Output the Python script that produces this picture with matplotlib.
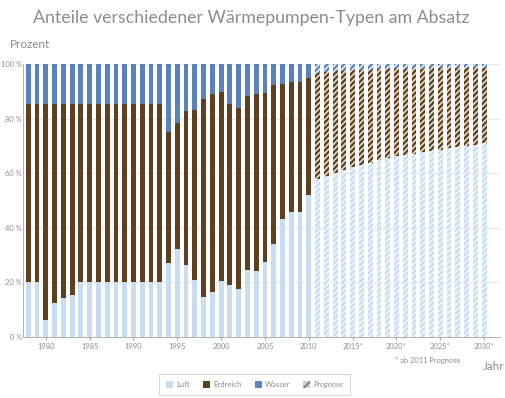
import matplotlib
matplotlib.use("Agg")
import matplotlib.pyplot as plt
from matplotlib.patches import Patch
import numpy as np

plt.rcParams['font.family'] = ['Lato', 'DejaVu Sans']
plt.rcParams['hatch.linewidth'] = 1.2

years = list(range(1978, 2031))
# cumulative tops (percent)
luft = [20, 20, 6.2, 12.3, 14.2, 15.4, 20, 20, 20, 20, 20, 20, 20, 20, 20, 20,
        27, 32.1, 26.4, 20.9, 14.8, 16.5, 20.6, 19.1, 17.6, 24.4, 24.3, 27.4,
        34.1, 43.2, 45.7, 45.9, 52.1,
        58.0, 59.1, 60.0, 61.0, 62.1, 63.0, 63.9, 64.8, 65.6, 66.2, 66.7,
        67.2, 67.7, 68.1, 68.6, 69.1, 69.5, 70.0, 70.3, 70.9]
erdreich_top = [85.2, 85.2, 85.2, 85.2, 85.2, 85.2, 85.2, 85.2, 85.2, 85.2, 85.2,
                85.2, 85.2, 85.2, 85.2, 85.2,
                75.0, 78.5, 82.8, 83.2, 87.2, 88.9, 89.9, 85.2, 83.8, 88.4, 89.1,
                89.5, 92.3, 92.8, 93.3, 93.5, 94.8,
                96.8, 97.1, 97.3, 97.5, 97.7, 97.8, 97.9, 98.0, 98.1, 98.2, 98.2,
                98.3, 98.3, 98.4, 98.4, 98.4, 98.5, 98.5, 98.5, 98.5]
forecast_start = 2011
xtick_years = [1980, 1985, 1990, 1995, 2000, 2005, 2010, 2015, 2020, 2025, 2030]
xtick_labels = ['1980', '1985', '1990', '1995', '2000', '2005', '2010',
                '2015*', '2020*', '2025*', '2030*']

c_luft = '#c8ddf1'
c_erd = '#5e3f1f'
c_was = '#5b82bb'
gray = '#8c8c8c'

luft_a = np.array(luft)
erd_a = np.array(erdreich_top) - luft_a
was_a = 100 - np.array(erdreich_top)
yrs = np.array(years)
hist = yrs < forecast_start
fc = ~hist

fig = plt.figure(figsize=(5.06, 3.98), dpi=100)
ax = fig.add_axes([0.046, 0.1533, 0.942, 0.6859])

w = 0.55
ax.bar(yrs[hist], luft_a[hist], w, color=c_luft, linewidth=0)
ax.bar(yrs[hist], erd_a[hist], w, bottom=luft_a[hist], color=c_erd, linewidth=0)
ax.bar(yrs[hist], was_a[hist], w, bottom=np.array(erdreich_top)[hist], color=c_was, linewidth=0)
ax.bar(yrs[fc], luft_a[fc], w, facecolor=c_luft, edgecolor='#eef5fb', hatch='//////', linewidth=0)
ax.bar(yrs[fc], erd_a[fc], w, bottom=luft_a[fc], facecolor=c_erd, edgecolor='#e8dcc8', hatch='//////', linewidth=0)
ax.bar(yrs[fc], was_a[fc], w, bottom=np.array(erdreich_top)[fc], facecolor=c_was, edgecolor='#e6eef8', hatch='//////', linewidth=0)

ax.set_xlim(1977.43, 2031.8)
ax.set_ylim(0, 100)
ax.set_yticks([0, 20, 40, 60, 80, 100])
ax.set_yticklabels(['0 %', '20 %', '40 %', '60 %', '80 %', '100 %'])
ax.set_xticks(xtick_years)
ax.set_xticklabels(xtick_labels)
ax.tick_params(axis='both', colors=gray, labelsize=5.4, length=2, width=0.6, pad=2)
ax.tick_params(axis='y', length=0, pad=1)
ax.grid(axis='y', color='#e6e6e6', linewidth=0.7)
ax.set_axisbelow(True)
for s in ['top', 'right']:
    ax.spines[s].set_visible(False)
for s in ['left', 'bottom']:
    ax.spines[s].set_color('#b0b0b0')
    ax.spines[s].set_linewidth(0.7)

fig.text(0.066, 0.976, 'Anteile verschiedener Wärmepumpen-Typen am Absatz',
         fontsize=12.8, color=gray, ha='left', va='top')
fig.text(0.02, 0.889, 'Prozent', fontsize=8.4, color=gray, ha='left', va='center')
fig.text(0.846, 0.095, '* ab 2011 Prognose', fontsize=5.4, color=gray, ha='center', va='center')
fig.text(0.975, 0.080, 'Jahr', fontsize=8.4, color=gray, ha='center', va='center')

handles = [Patch(facecolor=c_luft, linewidth=0),
           Patch(facecolor=c_erd, linewidth=0),
           Patch(facecolor=c_was, linewidth=0),
           Patch(facecolor='#cfcfcf', edgecolor='#777777', hatch='////', linewidth=0)]
leg = fig.legend(handles, ['Luft', 'Erdreich', 'Wasser', 'Prognose'],
                 loc='center', bbox_to_anchor=(0.503, 0.033), ncol=4,
                 fontsize=5.6, frameon=True, fancybox=False, edgecolor='#cccccc',
                 handlelength=0.9, handleheight=0.9, handletextpad=0.4,
                 columnspacing=1.7, borderpad=0.9, labelcolor=gray)
leg.get_frame().set_linewidth(0.7)
for t in leg.get_texts():
    if t.get_text() == 'Prognose':
        t.set_fontstyle('italic')

fig.savefig('out.png', dpi=100)
